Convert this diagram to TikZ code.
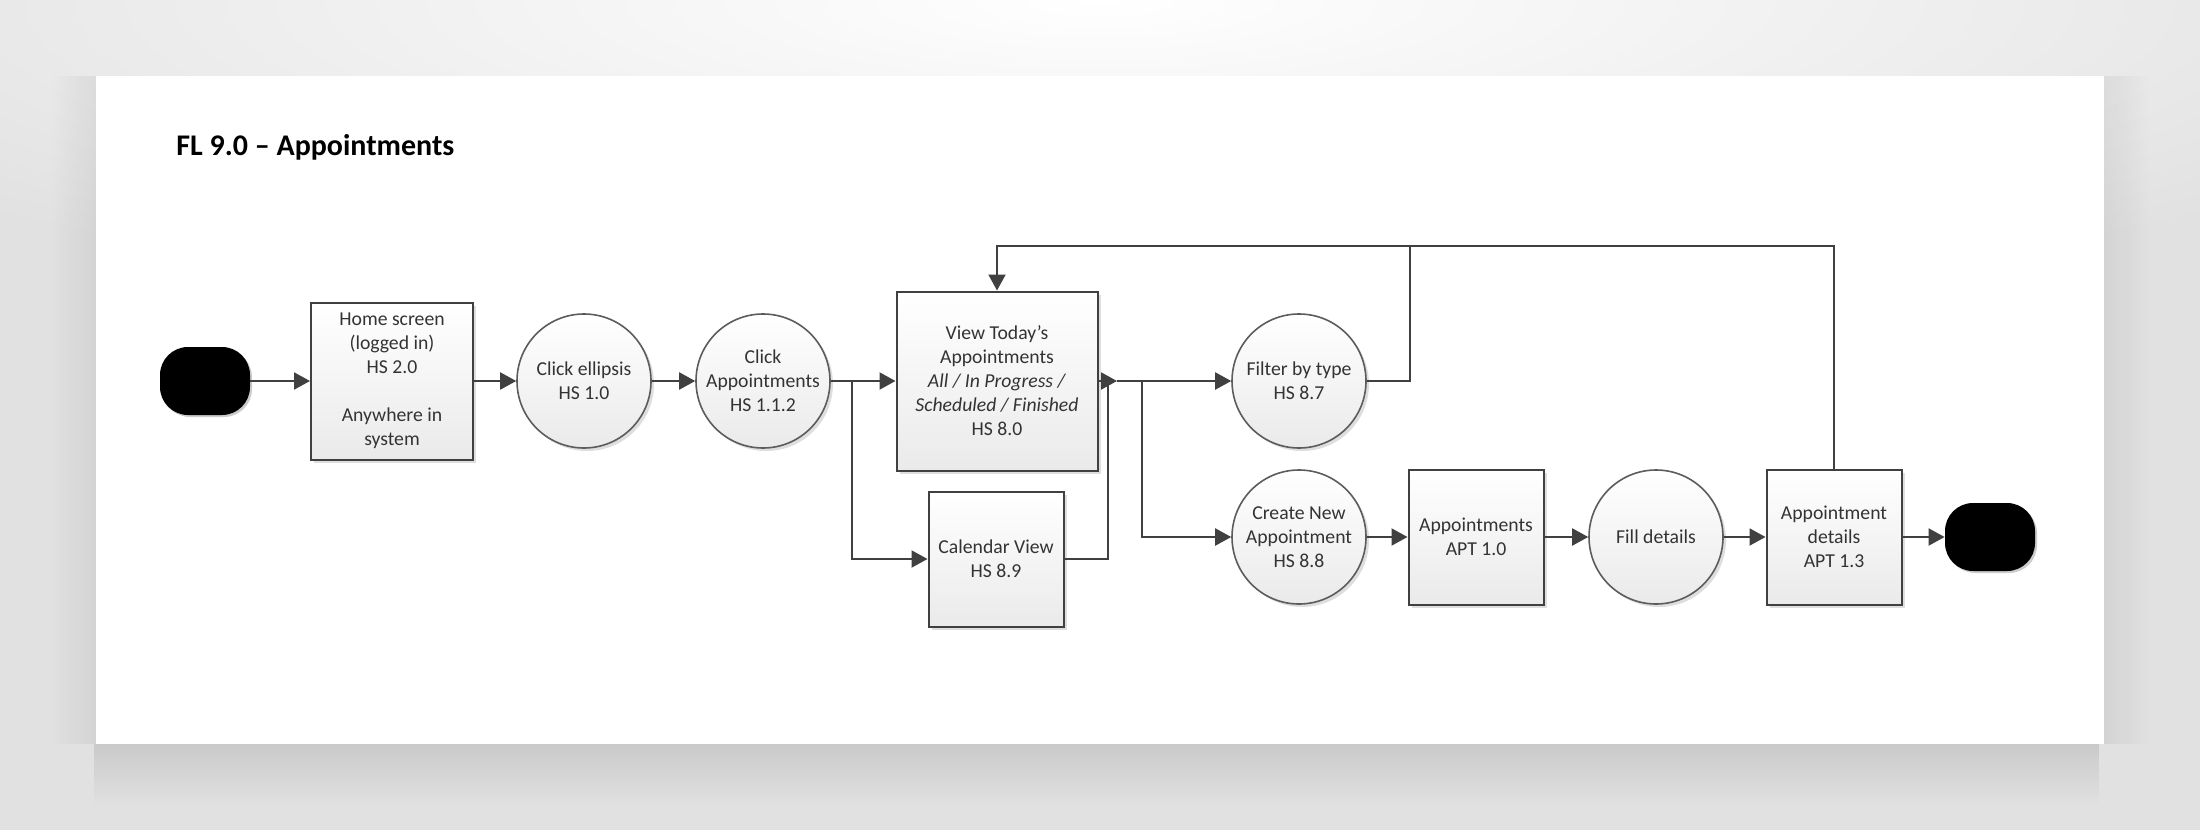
\documentclass[tikz,border=0pt]{standalone}
\usepackage{fontspec}
\setmainfont{Carlito}
\usepackage{xcolor}
\usetikzlibrary{positioning, calc, shadows, fadings, arrows.meta}

\definecolor{linegray}{HTML}{404040}
\definecolor{circgray}{HTML}{5C5C5C}
\definecolor{bggray}{HTML}{E1E1E1}
\definecolor{fillbot}{HTML}{EAEAEA}

\begin{document}
\begin{tikzpicture}[
    x=0.5pt, y=-0.5pt,
    every node/.style={font=\fontsize{9.85pt}{12pt}\selectfont, text=black!80},
    screen/.style={
        rectangle,
        draw=linegray,
        line width=1pt,
        top color=white,
        bottom color=fillbot,
        inner sep=0pt,
        align=center,
        drop shadow={fill=black!13, opacity=1, shadow xshift=1.5pt, shadow yshift=-1.5pt}
    },
    action/.style={
        circle,
        draw=circgray,
        line width=0.8pt,
        top color=white,
        bottom color=fillbot,
        minimum size=67pt,
        inner sep=0pt,
        align=center,
        drop shadow={fill=black!13, opacity=1, shadow xshift=1.5pt, shadow yshift=-1.5pt}
    },
    terminal/.style={
        rectangle,
        rounded corners=14pt,
        fill=black,
        minimum width=45pt,
        minimum height=34pt,
        drop shadow={fill=black!20, opacity=1, shadow xshift=1pt, shadow yshift=-1pt}
    },
    arrow/.style={
        -{Triangle[length=8pt, width=8.5pt]},
        draw=linegray,
        line width=1pt
    },
    link/.style={
        draw=linegray,
        line width=1pt
    }
]

% Fond et page
\useasboundingbox (0,0) rectangle (2200,830);
\fill[bggray] (0,0) rectangle (2200,830);
\begin{scope}
    \clip (0,0) rectangle (2200,830);
    \shade[inner color=white, outer color=bggray] (1100,0) ellipse (1500 and 320);
\end{scope}
% ombre de la page
\fill[black, opacity=0.10, path fading=south] (96,744) rectangle (2104,805);
\fill[black, opacity=0.06, path fading=east] (2104,76) rectangle (2150,744);
\fill[black, opacity=0.06, path fading=west] (50,76) rectangle (96,744);
\fill[white] (96,76) rectangle (2104,744);

% Titre
\node[anchor=base west, inner sep=0pt, font=\fontsize{15pt}{18pt}\selectfont\bfseries, text=black]
    (title) at (176,155) {FL 9.0 -- Appointments};

% Blocs
\node[terminal] (start) at (205,381) {};

\node[screen, minimum width=81pt, minimum height=78.5pt] (home) at (392,381)
    {Home screen\\(logged in)\\HS 2.0\\[12pt]Anywhere in\\system};

\node[action] (ellipsis) at (584,381) {Click ellipsis\\HS 1.0};

\node[action] (clickapp) at (763,381) {Click\\Appointments\\HS 1.1.2};

\node[screen, minimum width=100.5pt, minimum height=89.5pt] (view) at (997,381)
    {View Today’s\\Appointments\\\textit{All / In Progress /}\\\textit{Scheduled / Finished}\\HS 8.0};

\node[screen, minimum width=67.5pt, minimum height=67.5pt] (calendar) at (996,559)
    {Calendar View\\HS 8.9};

\node[action] (filter) at (1299,381) {Filter by type\\HS 8.7};

\node[action] (create) at (1299,537) {Create New\\Appointment\\HS 8.8};

\node[screen, minimum width=67.5pt, minimum height=67.5pt] (apt) at (1476,537)
    {Appointments\\APT 1.0};

\node[action] (fill) at (1656,537) {Fill details};

\node[screen, minimum width=67.5pt, minimum height=67.5pt] (details) at (1834,537)
    {Appointment\\details\\APT 1.3};

\node[terminal] (end) at (1990,537) {};

% Points de jonction
\coordinate (split1) at (852,381);
\coordinate (join) at (1117,381);
\coordinate (split2) at (1142,381);
\coordinate (filtertop) at (1410,246);
\coordinate (looptop) at (997,246);

% Ligne principale
\draw[arrow] (start) -- (home);
\draw[arrow] (home) -- (ellipsis);
\draw[arrow] (ellipsis) -- (clickapp);
\draw[arrow] (clickapp) -- (view);

% Click Appointments -> Calendar View
\draw[arrow] (split1) |- (calendar.west);

% View / Calendar -> suite
\draw[arrow] (view.east) -- (join);
\draw[link] (calendar.east) -| ([xshift=-4.5pt]join);
\draw[arrow] (join) -- (filter);
\draw[arrow] (split2) |- (create.west);

% Creation d'un rendez-vous
\draw[arrow] (create) -- (apt);
\draw[arrow] (apt) -- (fill);
\draw[arrow] (fill) -- (details);
\draw[arrow] (details) -- (end);

% Retours vers View Today's
\draw[link] (filter.east) -| (filtertop);
\draw[arrow] (details.north) |- (looptop) -- (view.north);

\end{tikzpicture}
\end{document}
